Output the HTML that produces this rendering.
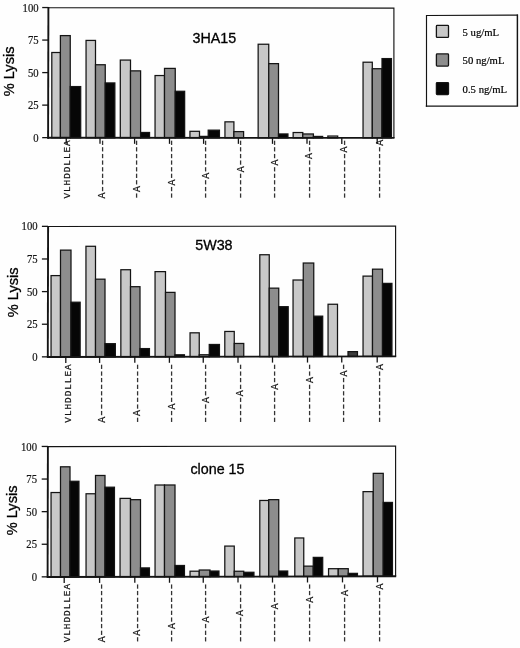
<!DOCTYPE html>
<html><head><meta charset="utf-8"><title>Lysis</title>
<style>html,body{margin:0;padding:0;background:#fefefe}svg{display:block;filter:grayscale(1)}</style>
</head><body>
<svg width="520" height="648" viewBox="0 0 520 648">
<rect width="520" height="648" fill="#fefefe"/>
<rect x="51.80" y="52.50" width="8.60" height="85.30" fill="#c8c8c8" stroke="#141414" stroke-width="1.25"/>
<rect x="60.40" y="35.60" width="9.85" height="102.20" fill="#8d8d8d" stroke="#141414" stroke-width="1.25"/>
<rect x="70.25" y="86.57" width="10.45" height="51.24" fill="#060606" stroke="#141414" stroke-width="1.25"/>
<rect x="86.05" y="40.42" width="9.45" height="97.39" fill="#c8c8c8" stroke="#141414" stroke-width="1.25"/>
<rect x="95.50" y="64.74" width="9.75" height="73.08" fill="#8d8d8d" stroke="#141414" stroke-width="1.25"/>
<rect x="105.25" y="82.94" width="9.60" height="54.88" fill="#060606" stroke="#141414" stroke-width="1.25"/>
<rect x="120.30" y="60.06" width="10.20" height="77.76" fill="#c8c8c8" stroke="#141414" stroke-width="1.25"/>
<rect x="130.50" y="70.86" width="10.10" height="66.97" fill="#8d8d8d" stroke="#141414" stroke-width="1.25"/>
<rect x="140.60" y="132.48" width="8.95" height="5.35" fill="#060606" stroke="#141414" stroke-width="1.25"/>
<rect x="155.05" y="75.54" width="9.45" height="62.29" fill="#c8c8c8" stroke="#141414" stroke-width="1.25"/>
<rect x="164.50" y="68.40" width="10.75" height="69.44" fill="#8d8d8d" stroke="#141414" stroke-width="1.25"/>
<rect x="175.25" y="91.28" width="9.40" height="46.56" fill="#060606" stroke="#141414" stroke-width="1.25"/>
<rect x="189.95" y="131.32" width="9.55" height="6.52" fill="#c8c8c8" stroke="#141414" stroke-width="1.25"/>
<rect x="199.50" y="136.39" width="8.70" height="1.45" fill="#8d8d8d" stroke="#141414" stroke-width="1.25"/>
<rect x="208.20" y="130.16" width="11.25" height="7.69" fill="#060606" stroke="#141414" stroke-width="1.25"/>
<rect x="224.95" y="121.84" width="8.95" height="16.01" fill="#c8c8c8" stroke="#141414" stroke-width="1.25"/>
<rect x="233.90" y="131.60" width="9.70" height="6.26" fill="#8d8d8d" stroke="#141414" stroke-width="1.25"/>
<rect x="258.15" y="44.24" width="10.60" height="93.62" fill="#c8c8c8" stroke="#141414" stroke-width="1.25"/>
<rect x="268.75" y="63.62" width="9.75" height="74.25" fill="#8d8d8d" stroke="#141414" stroke-width="1.25"/>
<rect x="278.50" y="133.95" width="9.45" height="3.92" fill="#060606" stroke="#141414" stroke-width="1.25"/>
<rect x="293.15" y="132.52" width="9.65" height="5.35" fill="#c8c8c8" stroke="#141414" stroke-width="1.25"/>
<rect x="302.80" y="133.96" width="10.60" height="3.92" fill="#8d8d8d" stroke="#141414" stroke-width="1.25"/>
<rect x="313.40" y="136.43" width="9.25" height="1.45" fill="#060606" stroke="#141414" stroke-width="1.25"/>
<rect x="327.85" y="136.04" width="9.85" height="1.84" fill="#c8c8c8" stroke="#141414" stroke-width="1.25"/>
<rect x="363.05" y="62.21" width="9.25" height="75.68" fill="#c8c8c8" stroke="#141414" stroke-width="1.25"/>
<rect x="372.30" y="68.72" width="9.70" height="69.18" fill="#8d8d8d" stroke="#141414" stroke-width="1.25"/>
<rect x="382.00" y="58.58" width="9.45" height="79.32" fill="#060606" stroke="#141414" stroke-width="1.25"/>
<path d="M48.4 7.7L393.9 8.1L393.9 137.9" fill="none" stroke="#141414" stroke-width="1.15" stroke-linejoin="miter"/>
<path d="M48.4 7.1000000000000005L48.1 138.8" fill="none" stroke="#141414" stroke-width="1.9"/>
<path d="M47.5 137.8L394.5 137.9" fill="none" stroke="#141414" stroke-width="1.9"/>
<path d="M42.20 137.65H48.40" stroke="#141414" stroke-width="1.3"/>
<text transform="translate(38.6 141.70) scale(0.92 1)" text-anchor="end" font-family="'Liberation Serif',serif" font-size="11.6" fill="#141414" stroke="#141414" stroke-width="0.2">0</text>
<path d="M42.20 105.12H48.40" stroke="#141414" stroke-width="1.3"/>
<text transform="translate(38.6 109.18) scale(0.92 1)" text-anchor="end" font-family="'Liberation Serif',serif" font-size="11.6" fill="#141414" stroke="#141414" stroke-width="0.2">25</text>
<path d="M42.20 72.60H48.40" stroke="#141414" stroke-width="1.3"/>
<text transform="translate(38.6 76.65) scale(0.92 1)" text-anchor="end" font-family="'Liberation Serif',serif" font-size="11.6" fill="#141414" stroke="#141414" stroke-width="0.2">50</text>
<path d="M42.20 40.07H48.40" stroke="#141414" stroke-width="1.3"/>
<text transform="translate(38.6 44.12) scale(0.92 1)" text-anchor="end" font-family="'Liberation Serif',serif" font-size="11.6" fill="#141414" stroke="#141414" stroke-width="0.2">75</text>
<path d="M42.20 7.55H48.40" stroke="#141414" stroke-width="1.3"/>
<text transform="translate(38.6 11.60) scale(0.92 1)" text-anchor="end" font-family="'Liberation Serif',serif" font-size="11.6" fill="#141414" stroke="#141414" stroke-width="0.2">100</text>
<text transform="translate(14.2 71.4) rotate(-90)" text-anchor="middle" font-family="'Liberation Sans',sans-serif" font-size="14.6" fill="#000" stroke="#000" stroke-width="0.3">% Lysis</text>
<text x="214.3" y="43.1" text-anchor="middle" font-family="'Liberation Sans',sans-serif" font-size="14.3" fill="#000" stroke="#000" stroke-width="0.3">3HA15</text>
<path d="M66.25 137.81V143.81" stroke="#141414" stroke-width="1.3"/>
<text transform="translate(69.60 198.6) rotate(-90)" font-family="'Liberation Mono',monospace" font-size="9.4" letter-spacing="0.96" fill="#141414" stroke="#141414" stroke-width="0.22">VLHDDLLEA</text>
<path d="M100.00 137.81V143.81" stroke="#141414" stroke-width="1.3"/>
<text transform="translate(106.70 198.6) rotate(-90)" font-family="'Liberation Mono',monospace" font-size="10" fill="#141414" stroke="#141414" stroke-width="0.2"><tspan font-size="10" letter-spacing="0.6" dy="-1.3">A</tspan><tspan font-size="15.6" letter-spacing="-2.76" fill="#333" stroke="none" dx="-1.7" dy="1.3">--------</tspan></text>
<path d="M134.60 137.82V143.82" stroke="#141414" stroke-width="1.3"/>
<text transform="translate(141.30 198.6) rotate(-90)" font-family="'Liberation Mono',monospace" font-size="10" fill="#141414" stroke="#141414" stroke-width="0.2"><tspan font-size="15.6" letter-spacing="-2.76" fill="#333" stroke="none" dx="-1.7">-</tspan><tspan font-size="10" letter-spacing="0.6" dy="-1.3" dx="1.7">A</tspan><tspan font-size="15.6" letter-spacing="-2.76" fill="#333" stroke="none" dx="-1.7" dy="1.3">-------</tspan></text>
<path d="M169.50 137.84V143.84" stroke="#141414" stroke-width="1.3"/>
<text transform="translate(176.20 198.6) rotate(-90)" font-family="'Liberation Mono',monospace" font-size="10" fill="#141414" stroke="#141414" stroke-width="0.2"><tspan font-size="15.6" letter-spacing="-2.76" fill="#333" stroke="none" dx="-1.7">--</tspan><tspan font-size="10" letter-spacing="0.6" dy="-1.3" dx="1.7">A</tspan><tspan font-size="15.6" letter-spacing="-2.76" fill="#333" stroke="none" dx="-1.7" dy="1.3">------</tspan></text>
<path d="M203.60 137.84V143.84" stroke="#141414" stroke-width="1.3"/>
<text transform="translate(210.30 198.6) rotate(-90)" font-family="'Liberation Mono',monospace" font-size="10" fill="#141414" stroke="#141414" stroke-width="0.2"><tspan font-size="15.6" letter-spacing="-2.76" fill="#333" stroke="none" dx="-1.7">---</tspan><tspan font-size="10" letter-spacing="0.6" dy="-1.3" dx="1.7">A</tspan><tspan font-size="15.6" letter-spacing="-2.76" fill="#333" stroke="none" dx="-1.7" dy="1.3">-----</tspan></text>
<path d="M238.40 137.85V143.85" stroke="#141414" stroke-width="1.3"/>
<text transform="translate(245.10 198.6) rotate(-90)" font-family="'Liberation Mono',monospace" font-size="10" fill="#141414" stroke="#141414" stroke-width="0.2"><tspan font-size="15.6" letter-spacing="-2.76" fill="#333" stroke="none" dx="-1.7">----</tspan><tspan font-size="10" letter-spacing="0.6" dy="-1.3" dx="1.7">A</tspan><tspan font-size="15.6" letter-spacing="-2.76" fill="#333" stroke="none" dx="-1.7" dy="1.3">----</tspan></text>
<path d="M272.50 137.86V143.86" stroke="#141414" stroke-width="1.3"/>
<text transform="translate(279.20 198.6) rotate(-90)" font-family="'Liberation Mono',monospace" font-size="10" fill="#141414" stroke="#141414" stroke-width="0.2"><tspan font-size="15.6" letter-spacing="-2.76" fill="#333" stroke="none" dx="-1.7">-----</tspan><tspan font-size="10" letter-spacing="0.6" dy="-1.3" dx="1.7">A</tspan><tspan font-size="15.6" letter-spacing="-2.76" fill="#333" stroke="none" dx="-1.7" dy="1.3">---</tspan></text>
<path d="M307.00 137.87V143.87" stroke="#141414" stroke-width="1.3"/>
<text transform="translate(313.70 198.6) rotate(-90)" font-family="'Liberation Mono',monospace" font-size="10" fill="#141414" stroke="#141414" stroke-width="0.2"><tspan font-size="15.6" letter-spacing="-2.76" fill="#333" stroke="none" dx="-1.7">------</tspan><tspan font-size="10" letter-spacing="0.6" dy="-1.3" dx="1.7">A</tspan><tspan font-size="15.6" letter-spacing="-2.76" fill="#333" stroke="none" dx="-1.7" dy="1.3">--</tspan></text>
<path d="M341.80 137.88V143.88" stroke="#141414" stroke-width="1.3"/>
<text transform="translate(348.50 198.6) rotate(-90)" font-family="'Liberation Mono',monospace" font-size="10" fill="#141414" stroke="#141414" stroke-width="0.2"><tspan font-size="15.6" letter-spacing="-2.76" fill="#333" stroke="none" dx="-1.7">-------</tspan><tspan font-size="10" letter-spacing="0.6" dy="-1.3" dx="1.7">A</tspan><tspan font-size="15.6" letter-spacing="-2.76" fill="#333" stroke="none" dx="-1.7" dy="1.3">-</tspan></text>
<path d="M377.20 137.90V143.90" stroke="#141414" stroke-width="1.3"/>
<text transform="translate(383.90 198.6) rotate(-90)" font-family="'Liberation Mono',monospace" font-size="10" fill="#141414" stroke="#141414" stroke-width="0.2"><tspan font-size="15.6" letter-spacing="-2.76" fill="#333" stroke="none" dx="-1.7">--------</tspan><tspan font-size="10" letter-spacing="0.6" dy="-1.3" dx="1.7">A</tspan></text>
<rect x="51.05" y="275.60" width="9.45" height="81.39" fill="#c8c8c8" stroke="#141414" stroke-width="1.25"/>
<rect x="60.50" y="250.12" width="10.50" height="106.85" fill="#8d8d8d" stroke="#141414" stroke-width="1.25"/>
<rect x="71.00" y="302.21" width="9.15" height="54.74" fill="#060606" stroke="#141414" stroke-width="1.25"/>
<rect x="85.95" y="246.29" width="9.55" height="110.64" fill="#c8c8c8" stroke="#141414" stroke-width="1.25"/>
<rect x="95.50" y="279.18" width="9.50" height="77.73" fill="#8d8d8d" stroke="#141414" stroke-width="1.25"/>
<rect x="105.00" y="343.68" width="10.35" height="13.21" fill="#060606" stroke="#141414" stroke-width="1.25"/>
<rect x="120.85" y="269.73" width="9.65" height="87.13" fill="#c8c8c8" stroke="#141414" stroke-width="1.25"/>
<rect x="130.50" y="286.69" width="9.50" height="70.15" fill="#8d8d8d" stroke="#141414" stroke-width="1.25"/>
<rect x="140.00" y="348.58" width="9.45" height="8.25" fill="#060606" stroke="#141414" stroke-width="1.25"/>
<rect x="155.05" y="271.63" width="10.45" height="85.17" fill="#c8c8c8" stroke="#141414" stroke-width="1.25"/>
<rect x="165.50" y="292.38" width="9.50" height="64.41" fill="#8d8d8d" stroke="#141414" stroke-width="1.25"/>
<rect x="175.00" y="354.79" width="9.45" height="1.98" fill="#060606" stroke="#141414" stroke-width="1.25"/>
<rect x="190.05" y="332.82" width="9.20" height="23.92" fill="#c8c8c8" stroke="#141414" stroke-width="1.25"/>
<rect x="199.25" y="354.75" width="10.00" height="1.98" fill="#8d8d8d" stroke="#141414" stroke-width="1.25"/>
<rect x="209.25" y="344.48" width="10.20" height="12.23" fill="#060606" stroke="#141414" stroke-width="1.25"/>
<rect x="224.80" y="331.46" width="9.45" height="25.23" fill="#c8c8c8" stroke="#141414" stroke-width="1.25"/>
<rect x="234.25" y="343.46" width="9.50" height="13.21" fill="#8d8d8d" stroke="#141414" stroke-width="1.25"/>
<rect x="259.80" y="254.74" width="9.45" height="101.89" fill="#c8c8c8" stroke="#141414" stroke-width="1.25"/>
<rect x="269.25" y="288.15" width="9.50" height="68.46" fill="#8d8d8d" stroke="#141414" stroke-width="1.25"/>
<rect x="278.75" y="306.68" width="9.45" height="49.91" fill="#060606" stroke="#141414" stroke-width="1.25"/>
<rect x="293.05" y="280.01" width="10.20" height="76.55" fill="#c8c8c8" stroke="#141414" stroke-width="1.25"/>
<rect x="303.25" y="263.02" width="10.50" height="93.53" fill="#8d8d8d" stroke="#141414" stroke-width="1.25"/>
<rect x="313.75" y="316.16" width="8.95" height="40.38" fill="#060606" stroke="#141414" stroke-width="1.25"/>
<rect x="328.05" y="304.25" width="9.45" height="52.26" fill="#c8c8c8" stroke="#141414" stroke-width="1.25"/>
<rect x="348.00" y="351.62" width="9.45" height="4.85" fill="#3c3c3c" stroke="#141414" stroke-width="1.25"/>
<rect x="363.05" y="276.11" width="9.45" height="80.34" fill="#c8c8c8" stroke="#141414" stroke-width="1.25"/>
<rect x="372.50" y="269.17" width="10.00" height="87.26" fill="#8d8d8d" stroke="#141414" stroke-width="1.25"/>
<rect x="382.50" y="283.39" width="9.45" height="73.03" fill="#060606" stroke="#141414" stroke-width="1.25"/>
<path d="M48.1 226.5L395.6 226.0L395.6 356.4" fill="none" stroke="#141414" stroke-width="1.15" stroke-linejoin="miter"/>
<path d="M48.1 225.9L47.800000000000004 358.0" fill="none" stroke="#141414" stroke-width="1.9"/>
<path d="M47.2 357.0L396.20000000000005 356.4" fill="none" stroke="#141414" stroke-width="1.9"/>
<path d="M41.90 356.85H48.10" stroke="#141414" stroke-width="1.3"/>
<text transform="translate(37.6 360.90) scale(0.92 1)" text-anchor="end" font-family="'Liberation Serif',serif" font-size="11.6" fill="#141414" stroke="#141414" stroke-width="0.2">0</text>
<path d="M41.90 324.23H48.10" stroke="#141414" stroke-width="1.3"/>
<text transform="translate(37.6 328.27) scale(0.92 1)" text-anchor="end" font-family="'Liberation Serif',serif" font-size="11.6" fill="#141414" stroke="#141414" stroke-width="0.2">25</text>
<path d="M41.90 291.60H48.10" stroke="#141414" stroke-width="1.3"/>
<text transform="translate(37.6 295.65) scale(0.92 1)" text-anchor="end" font-family="'Liberation Serif',serif" font-size="11.6" fill="#141414" stroke="#141414" stroke-width="0.2">50</text>
<path d="M41.90 258.98H48.10" stroke="#141414" stroke-width="1.3"/>
<text transform="translate(37.6 263.02) scale(0.92 1)" text-anchor="end" font-family="'Liberation Serif',serif" font-size="11.6" fill="#141414" stroke="#141414" stroke-width="0.2">75</text>
<path d="M41.90 226.35H48.10" stroke="#141414" stroke-width="1.3"/>
<text transform="translate(37.6 230.40) scale(0.92 1)" text-anchor="end" font-family="'Liberation Serif',serif" font-size="11.6" fill="#141414" stroke="#141414" stroke-width="0.2">100</text>
<text transform="translate(18.3 292.3) rotate(-90)" text-anchor="middle" font-family="'Liberation Sans',sans-serif" font-size="14.6" fill="#000" stroke="#000" stroke-width="0.3">% Lysis</text>
<text x="213.9" y="249.8" text-anchor="middle" font-family="'Liberation Sans',sans-serif" font-size="14.3" fill="#000" stroke="#000" stroke-width="0.3">5W38</text>
<path d="M65.80 356.97V362.97" stroke="#141414" stroke-width="1.3"/>
<text transform="translate(71.30 422.7) rotate(-90)" font-family="'Liberation Mono',monospace" font-size="9.4" letter-spacing="0.96" fill="#141414" stroke="#141414" stroke-width="0.22">VLHDDLLEA</text>
<path d="M99.60 356.91V362.91" stroke="#141414" stroke-width="1.3"/>
<text transform="translate(106.30 422.7) rotate(-90)" font-family="'Liberation Mono',monospace" font-size="10" fill="#141414" stroke="#141414" stroke-width="0.2"><tspan font-size="10" letter-spacing="0.6" dy="-1.3">A</tspan><tspan font-size="15.6" letter-spacing="-2.76" fill="#333" stroke="none" dx="-1.7" dy="1.3">--------</tspan></text>
<path d="M134.80 356.85V362.85" stroke="#141414" stroke-width="1.3"/>
<text transform="translate(141.50 422.7) rotate(-90)" font-family="'Liberation Mono',monospace" font-size="10" fill="#141414" stroke="#141414" stroke-width="0.2"><tspan font-size="15.6" letter-spacing="-2.76" fill="#333" stroke="none" dx="-1.7">-</tspan><tspan font-size="10" letter-spacing="0.6" dy="-1.3" dx="1.7">A</tspan><tspan font-size="15.6" letter-spacing="-2.76" fill="#333" stroke="none" dx="-1.7" dy="1.3">-------</tspan></text>
<path d="M169.40 356.79V362.79" stroke="#141414" stroke-width="1.3"/>
<text transform="translate(176.10 422.7) rotate(-90)" font-family="'Liberation Mono',monospace" font-size="10" fill="#141414" stroke="#141414" stroke-width="0.2"><tspan font-size="15.6" letter-spacing="-2.76" fill="#333" stroke="none" dx="-1.7">--</tspan><tspan font-size="10" letter-spacing="0.6" dy="-1.3" dx="1.7">A</tspan><tspan font-size="15.6" letter-spacing="-2.76" fill="#333" stroke="none" dx="-1.7" dy="1.3">------</tspan></text>
<path d="M203.25 356.73V362.73" stroke="#141414" stroke-width="1.3"/>
<text transform="translate(209.95 422.7) rotate(-90)" font-family="'Liberation Mono',monospace" font-size="10" fill="#141414" stroke="#141414" stroke-width="0.2"><tspan font-size="15.6" letter-spacing="-2.76" fill="#333" stroke="none" dx="-1.7">---</tspan><tspan font-size="10" letter-spacing="0.6" dy="-1.3" dx="1.7">A</tspan><tspan font-size="15.6" letter-spacing="-2.76" fill="#333" stroke="none" dx="-1.7" dy="1.3">-----</tspan></text>
<path d="M238.00 356.67V362.67" stroke="#141414" stroke-width="1.3"/>
<text transform="translate(244.70 422.7) rotate(-90)" font-family="'Liberation Mono',monospace" font-size="10" fill="#141414" stroke="#141414" stroke-width="0.2"><tspan font-size="15.6" letter-spacing="-2.76" fill="#333" stroke="none" dx="-1.7">----</tspan><tspan font-size="10" letter-spacing="0.6" dy="-1.3" dx="1.7">A</tspan><tspan font-size="15.6" letter-spacing="-2.76" fill="#333" stroke="none" dx="-1.7" dy="1.3">----</tspan></text>
<path d="M272.50 356.61V362.61" stroke="#141414" stroke-width="1.3"/>
<text transform="translate(279.20 422.7) rotate(-90)" font-family="'Liberation Mono',monospace" font-size="10" fill="#141414" stroke="#141414" stroke-width="0.2"><tspan font-size="15.6" letter-spacing="-2.76" fill="#333" stroke="none" dx="-1.7">-----</tspan><tspan font-size="10" letter-spacing="0.6" dy="-1.3" dx="1.7">A</tspan><tspan font-size="15.6" letter-spacing="-2.76" fill="#333" stroke="none" dx="-1.7" dy="1.3">---</tspan></text>
<path d="M307.50 356.55V362.55" stroke="#141414" stroke-width="1.3"/>
<text transform="translate(314.20 422.7) rotate(-90)" font-family="'Liberation Mono',monospace" font-size="10" fill="#141414" stroke="#141414" stroke-width="0.2"><tspan font-size="15.6" letter-spacing="-2.76" fill="#333" stroke="none" dx="-1.7">------</tspan><tspan font-size="10" letter-spacing="0.6" dy="-1.3" dx="1.7">A</tspan><tspan font-size="15.6" letter-spacing="-2.76" fill="#333" stroke="none" dx="-1.7" dy="1.3">--</tspan></text>
<path d="M341.75 356.49V362.49" stroke="#141414" stroke-width="1.3"/>
<text transform="translate(348.45 422.7) rotate(-90)" font-family="'Liberation Mono',monospace" font-size="10" fill="#141414" stroke="#141414" stroke-width="0.2"><tspan font-size="15.6" letter-spacing="-2.76" fill="#333" stroke="none" dx="-1.7">-------</tspan><tspan font-size="10" letter-spacing="0.6" dy="-1.3" dx="1.7">A</tspan><tspan font-size="15.6" letter-spacing="-2.76" fill="#333" stroke="none" dx="-1.7" dy="1.3">-</tspan></text>
<path d="M377.20 356.43V362.43" stroke="#141414" stroke-width="1.3"/>
<text transform="translate(383.90 422.7) rotate(-90)" font-family="'Liberation Mono',monospace" font-size="10" fill="#141414" stroke="#141414" stroke-width="0.2"><tspan font-size="15.6" letter-spacing="-2.76" fill="#333" stroke="none" dx="-1.7">--------</tspan><tspan font-size="10" letter-spacing="0.6" dy="-1.3" dx="1.7">A</tspan></text>
<rect x="51.05" y="492.53" width="9.45" height="84.46" fill="#c8c8c8" stroke="#141414" stroke-width="1.25"/>
<rect x="60.50" y="466.80" width="9.50" height="110.16" fill="#8d8d8d" stroke="#141414" stroke-width="1.25"/>
<rect x="70.00" y="481.27" width="8.95" height="95.68" fill="#060606" stroke="#141414" stroke-width="1.25"/>
<rect x="86.05" y="493.76" width="9.45" height="83.15" fill="#c8c8c8" stroke="#141414" stroke-width="1.25"/>
<rect x="95.50" y="475.47" width="9.50" height="101.42" fill="#8d8d8d" stroke="#141414" stroke-width="1.25"/>
<rect x="105.00" y="487.20" width="9.45" height="89.68" fill="#060606" stroke="#141414" stroke-width="1.25"/>
<rect x="120.05" y="498.39" width="10.45" height="78.45" fill="#c8c8c8" stroke="#141414" stroke-width="1.25"/>
<rect x="130.50" y="499.68" width="10.00" height="77.15" fill="#8d8d8d" stroke="#141414" stroke-width="1.25"/>
<rect x="140.50" y="567.91" width="8.95" height="8.90" fill="#060606" stroke="#141414" stroke-width="1.25"/>
<rect x="155.05" y="485.01" width="9.45" height="91.76" fill="#c8c8c8" stroke="#141414" stroke-width="1.25"/>
<rect x="164.50" y="484.99" width="10.50" height="91.76" fill="#8d8d8d" stroke="#141414" stroke-width="1.25"/>
<rect x="175.00" y="565.49" width="9.45" height="11.24" fill="#060606" stroke="#141414" stroke-width="1.25"/>
<rect x="190.05" y="571.20" width="9.20" height="5.50" fill="#c8c8c8" stroke="#141414" stroke-width="1.25"/>
<rect x="199.25" y="570.01" width="10.75" height="6.68" fill="#8d8d8d" stroke="#141414" stroke-width="1.25"/>
<rect x="210.00" y="571.03" width="8.95" height="5.63" fill="#060606" stroke="#141414" stroke-width="1.25"/>
<rect x="224.80" y="546.08" width="9.45" height="30.56" fill="#c8c8c8" stroke="#141414" stroke-width="1.25"/>
<rect x="234.25" y="571.24" width="9.50" height="5.37" fill="#8d8d8d" stroke="#141414" stroke-width="1.25"/>
<rect x="243.75" y="572.27" width="10.20" height="4.33" fill="#060606" stroke="#141414" stroke-width="1.25"/>
<rect x="259.80" y="500.46" width="8.95" height="76.10" fill="#c8c8c8" stroke="#141414" stroke-width="1.25"/>
<rect x="268.75" y="499.66" width="10.00" height="76.89" fill="#8d8d8d" stroke="#141414" stroke-width="1.25"/>
<rect x="278.75" y="571.02" width="8.95" height="5.50" fill="#060606" stroke="#141414" stroke-width="1.25"/>
<rect x="294.80" y="537.97" width="8.95" height="38.52" fill="#c8c8c8" stroke="#141414" stroke-width="1.25"/>
<rect x="303.75" y="566.14" width="9.50" height="10.33" fill="#8d8d8d" stroke="#141414" stroke-width="1.25"/>
<rect x="313.25" y="557.38" width="9.45" height="19.07" fill="#060606" stroke="#141414" stroke-width="1.25"/>
<rect x="328.55" y="568.70" width="9.70" height="7.72" fill="#c8c8c8" stroke="#141414" stroke-width="1.25"/>
<rect x="338.25" y="568.68" width="10.00" height="7.72" fill="#8d8d8d" stroke="#141414" stroke-width="1.25"/>
<rect x="348.25" y="573.36" width="9.20" height="3.02" fill="#060606" stroke="#141414" stroke-width="1.25"/>
<rect x="363.05" y="491.64" width="10.20" height="84.72" fill="#c8c8c8" stroke="#141414" stroke-width="1.25"/>
<rect x="373.25" y="473.35" width="10.00" height="102.99" fill="#8d8d8d" stroke="#141414" stroke-width="1.25"/>
<rect x="383.25" y="502.43" width="9.20" height="73.88" fill="#060606" stroke="#141414" stroke-width="1.25"/>
<path d="M47.9 446.6L395.6 446.0L395.6 576.3" fill="none" stroke="#141414" stroke-width="1.15" stroke-linejoin="miter"/>
<path d="M47.9 446.0L47.6 578.0" fill="none" stroke="#141414" stroke-width="1.9"/>
<path d="M47.0 577.0L396.20000000000005 576.3" fill="none" stroke="#141414" stroke-width="1.9"/>
<path d="M41.70 576.85H47.90" stroke="#141414" stroke-width="1.3"/>
<text transform="translate(37.0 580.90) scale(0.92 1)" text-anchor="end" font-family="'Liberation Serif',serif" font-size="11.6" fill="#141414" stroke="#141414" stroke-width="0.2">0</text>
<path d="M41.70 544.25H47.90" stroke="#141414" stroke-width="1.3"/>
<text transform="translate(37.0 548.30) scale(0.92 1)" text-anchor="end" font-family="'Liberation Serif',serif" font-size="11.6" fill="#141414" stroke="#141414" stroke-width="0.2">25</text>
<path d="M41.70 511.65H47.90" stroke="#141414" stroke-width="1.3"/>
<text transform="translate(37.0 515.70) scale(0.92 1)" text-anchor="end" font-family="'Liberation Serif',serif" font-size="11.6" fill="#141414" stroke="#141414" stroke-width="0.2">50</text>
<path d="M41.70 479.05H47.90" stroke="#141414" stroke-width="1.3"/>
<text transform="translate(37.0 483.10) scale(0.92 1)" text-anchor="end" font-family="'Liberation Serif',serif" font-size="11.6" fill="#141414" stroke="#141414" stroke-width="0.2">75</text>
<path d="M41.70 446.45H47.90" stroke="#141414" stroke-width="1.3"/>
<text transform="translate(37.0 450.50) scale(0.92 1)" text-anchor="end" font-family="'Liberation Serif',serif" font-size="11.6" fill="#141414" stroke="#141414" stroke-width="0.2">100</text>
<text transform="translate(16.5 510.4) rotate(-90)" text-anchor="middle" font-family="'Liberation Sans',sans-serif" font-size="14.6" fill="#000" stroke="#000" stroke-width="0.3">% Lysis</text>
<text x="217.5" y="473.5" text-anchor="middle" font-family="'Liberation Sans',sans-serif" font-size="14.3" fill="#000" stroke="#000" stroke-width="0.3">clone 15</text>
<path d="M64.20 576.97V582.97" stroke="#141414" stroke-width="1.3"/>
<text transform="translate(69.60 642.3) rotate(-90)" font-family="'Liberation Mono',monospace" font-size="9.4" letter-spacing="0.96" fill="#141414" stroke="#141414" stroke-width="0.22">VLHDDLLEA</text>
<path d="M99.60 576.90V582.90" stroke="#141414" stroke-width="1.3"/>
<text transform="translate(106.30 642.3) rotate(-90)" font-family="'Liberation Mono',monospace" font-size="10" fill="#141414" stroke="#141414" stroke-width="0.2"><tspan font-size="10" letter-spacing="0.6" dy="-1.3">A</tspan><tspan font-size="15.6" letter-spacing="-2.76" fill="#333" stroke="none" dx="-1.7" dy="1.3">--------</tspan></text>
<path d="M134.80 576.83V582.83" stroke="#141414" stroke-width="1.3"/>
<text transform="translate(141.50 642.3) rotate(-90)" font-family="'Liberation Mono',monospace" font-size="10" fill="#141414" stroke="#141414" stroke-width="0.2"><tspan font-size="15.6" letter-spacing="-2.76" fill="#333" stroke="none" dx="-1.7">-</tspan><tspan font-size="10" letter-spacing="0.6" dy="-1.3" dx="1.7">A</tspan><tspan font-size="15.6" letter-spacing="-2.76" fill="#333" stroke="none" dx="-1.7" dy="1.3">-------</tspan></text>
<path d="M169.50 576.76V582.76" stroke="#141414" stroke-width="1.3"/>
<text transform="translate(176.20 642.3) rotate(-90)" font-family="'Liberation Mono',monospace" font-size="10" fill="#141414" stroke="#141414" stroke-width="0.2"><tspan font-size="15.6" letter-spacing="-2.76" fill="#333" stroke="none" dx="-1.7">--</tspan><tspan font-size="10" letter-spacing="0.6" dy="-1.3" dx="1.7">A</tspan><tspan font-size="15.6" letter-spacing="-2.76" fill="#333" stroke="none" dx="-1.7" dy="1.3">------</tspan></text>
<path d="M203.25 576.69V582.69" stroke="#141414" stroke-width="1.3"/>
<text transform="translate(209.95 642.3) rotate(-90)" font-family="'Liberation Mono',monospace" font-size="10" fill="#141414" stroke="#141414" stroke-width="0.2"><tspan font-size="15.6" letter-spacing="-2.76" fill="#333" stroke="none" dx="-1.7">---</tspan><tspan font-size="10" letter-spacing="0.6" dy="-1.3" dx="1.7">A</tspan><tspan font-size="15.6" letter-spacing="-2.76" fill="#333" stroke="none" dx="-1.7" dy="1.3">-----</tspan></text>
<path d="M238.00 576.62V582.62" stroke="#141414" stroke-width="1.3"/>
<text transform="translate(244.70 642.3) rotate(-90)" font-family="'Liberation Mono',monospace" font-size="10" fill="#141414" stroke="#141414" stroke-width="0.2"><tspan font-size="15.6" letter-spacing="-2.76" fill="#333" stroke="none" dx="-1.7">----</tspan><tspan font-size="10" letter-spacing="0.6" dy="-1.3" dx="1.7">A</tspan><tspan font-size="15.6" letter-spacing="-2.76" fill="#333" stroke="none" dx="-1.7" dy="1.3">----</tspan></text>
<path d="M272.50 576.55V582.55" stroke="#141414" stroke-width="1.3"/>
<text transform="translate(279.20 642.3) rotate(-90)" font-family="'Liberation Mono',monospace" font-size="10" fill="#141414" stroke="#141414" stroke-width="0.2"><tspan font-size="15.6" letter-spacing="-2.76" fill="#333" stroke="none" dx="-1.7">-----</tspan><tspan font-size="10" letter-spacing="0.6" dy="-1.3" dx="1.7">A</tspan><tspan font-size="15.6" letter-spacing="-2.76" fill="#333" stroke="none" dx="-1.7" dy="1.3">---</tspan></text>
<path d="M307.50 576.48V582.48" stroke="#141414" stroke-width="1.3"/>
<text transform="translate(314.20 642.3) rotate(-90)" font-family="'Liberation Mono',monospace" font-size="10" fill="#141414" stroke="#141414" stroke-width="0.2"><tspan font-size="15.6" letter-spacing="-2.76" fill="#333" stroke="none" dx="-1.7">------</tspan><tspan font-size="10" letter-spacing="0.6" dy="-1.3" dx="1.7">A</tspan><tspan font-size="15.6" letter-spacing="-2.76" fill="#333" stroke="none" dx="-1.7" dy="1.3">--</tspan></text>
<path d="M342.50 576.41V582.41" stroke="#141414" stroke-width="1.3"/>
<text transform="translate(349.20 642.3) rotate(-90)" font-family="'Liberation Mono',monospace" font-size="10" fill="#141414" stroke="#141414" stroke-width="0.2"><tspan font-size="15.6" letter-spacing="-2.76" fill="#333" stroke="none" dx="-1.7">-------</tspan><tspan font-size="10" letter-spacing="0.6" dy="-1.3" dx="1.7">A</tspan><tspan font-size="15.6" letter-spacing="-2.76" fill="#333" stroke="none" dx="-1.7" dy="1.3">-</tspan></text>
<path d="M377.50 576.34V582.34" stroke="#141414" stroke-width="1.3"/>
<text transform="translate(384.20 642.3) rotate(-90)" font-family="'Liberation Mono',monospace" font-size="10" fill="#141414" stroke="#141414" stroke-width="0.2"><tspan font-size="15.6" letter-spacing="-2.76" fill="#333" stroke="none" dx="-1.7">--------</tspan><tspan font-size="10" letter-spacing="0.6" dy="-1.3" dx="1.7">A</tspan></text>
<rect x="426.5" y="15.3" width="90.9" height="90.8" fill="#fefefe" stroke="none"/>
<path d="M426.5 106.1V15.5L517.4 15.1" fill="none" stroke="#141414" stroke-width="1.15" stroke-linecap="square"/>
<path d="M517.4 15.1V106.1H426.5" fill="none" stroke="#141414" stroke-width="1.45" stroke-linecap="square"/>
<rect x="436.4" y="25.35" width="12.1" height="12.1" rx="0.8" fill="#c8c8c8" stroke="#141414" stroke-width="1.3"/>
<text x="462.6" y="35.70" font-family="'Liberation Serif',serif" font-size="10.7" fill="#000" stroke="#000" stroke-width="0.2">5 ug/mL</text>
<rect x="436.4" y="53.95" width="12.1" height="12.1" rx="0.8" fill="#8d8d8d" stroke="#141414" stroke-width="1.3"/>
<text x="462.6" y="64.30" font-family="'Liberation Serif',serif" font-size="10.7" fill="#000" stroke="#000" stroke-width="0.2">50 ng/mL</text>
<rect x="436.4" y="82.55" width="12.1" height="12.1" rx="0.8" fill="#060606" stroke="#141414" stroke-width="1.3"/>
<text x="462.6" y="92.90" font-family="'Liberation Serif',serif" font-size="10.7" fill="#000" stroke="#000" stroke-width="0.2">0.5 ng/mL</text>
</svg>
</body></html>
